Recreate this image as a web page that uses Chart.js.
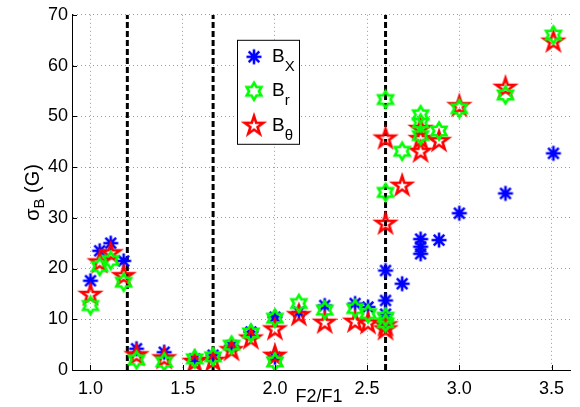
<!DOCTYPE html>
<html>
<head>
<meta charset="utf-8">
<script src="https://cdn.jsdelivr.net/npm/chart.js@4"></script>
<style>
  body { margin: 0; background: #fff; }
</style>
</head>
<body>
<canvas id="myChart" width="580" height="407"></canvas>
<script>
// F2/F1 ratio for each measurement, shared by the three components
const ratio = [1.00, 1.05, 1.11, 1.18, 1.25, 1.40, 1.565, 1.665, 1.765, 1.87,
  2.00, 2.00, 2.13, 2.27, 2.435, 2.505, 2.60, 2.60, 2.60, 2.60,
  2.69, 2.79, 2.79, 2.79, 2.89, 3.00, 3.25, 3.51];
const sigmaX = [17.6, 23.5, 25.0, 21.5, 4.2, 3.5, 2.2, 2.9, 4.8, 7.5,
  10.4, 2.5, 11.4, 12.7, 13.1, 12.4, 19.6, 13.7, 11.0, 9.5,
  17.0, 25.8, 24.3, 22.9, 25.6, 30.9, 34.8, 42.7];
const sigmaR = [12.7, 20.4, 21.6, 17.3, 2.0, 1.6, 2.2, 2.6, 4.9, 7.3,
  10.2, 1.6, 13.1, 11.8, 12.1, 11.1, 53.3, 35.0, 10.4, 9.3,
  43.1, 50.3, 48.7, 46.2, 47.1, 51.5, 54.2, 66.0];
const sigmaTheta = [14.8, 21.2, 23.0, 18.5, 2.9, 2.3, 1.6, 1.8, 3.9, 6.2,
  8.0, 2.8, 10.8, 9.3, 9.5, 9.2, 45.6, 28.8, 8.0, 8.8,
  36.3, 47.5, 45.5, 43.0, 45.1, 52.0, 55.6, 64.7];
const boundaries = [1.2, 1.665, 2.6];
const xTicks = [1, 1.5, 2, 2.5, 3, 3.5];
const yTicks = [0, 10, 20, 30, 40, 50, 60, 70];

const FONT = "'Liberation Sans', Arial, sans-serif";

// matlab-like hollow markers
function marker(kind, color) {
  const c = document.createElement("canvas");
  c.width = 30;
  c.height = 30;
  const g = c.getContext("2d");
  g.strokeStyle = color;
  g.lineWidth = 2.6;
  g.translate(15, 15);
  g.beginPath();
  if (kind === "asterisk") {
    for (let i = 0; i < 4; i++) {
      const a = i * Math.PI / 4;
      g.moveTo(-7.5 * Math.cos(a), -7.5 * Math.sin(a));
      g.lineTo(7.5 * Math.cos(a), 7.5 * Math.sin(a));
    }
  } else {
    const n = kind === "hex" ? 6 : 5;
    const R = kind === "hex" ? 8.5 : 9.8;
    const r = kind === "hex" ? R / Math.sqrt(3) : R * 0.382;
    for (let i = 0; i < 2 * n; i++) {
      const a = -Math.PI / 2 + i * Math.PI / n;
      const rr = i % 2 ? r : R;
      g.lineTo(rr * Math.cos(a), rr * Math.sin(a));
    }
    g.closePath();
  }
  g.stroke();
  return c;
}

const mX = marker("asterisk", "#0000ff");
const mR = marker("hex", "#00ff00");
const mT = marker("penta", "#ff0000");

const pts = ys => ratio.map((x, i) => ({ x: x, y: ys[i] }));

const decor = {
  id: "decor",
  afterDraw(chart) {
    const { ctx, chartArea: a, scales: { x, y } } = chart;
    ctx.save();

    // inner tick marks
    ctx.strokeStyle = "#000";
    ctx.lineWidth = 1;
    ctx.beginPath();
    xTicks.forEach(v => {
      const px = Math.round(x.getPixelForValue(v)) + 0.5;
      ctx.moveTo(px, a.bottom);
      ctx.lineTo(px, a.bottom - 5);
    });
    yTicks.forEach(v => {
      const py = Math.round(y.getPixelForValue(v)) + 0.5;
      ctx.moveTo(a.left, py);
      ctx.lineTo(a.left + 5, py);
    });
    ctx.stroke();

    // x title
    ctx.fillStyle = "#000";
    ctx.font = "18px " + FONT;
    ctx.textAlign = "center";
    ctx.textBaseline = "alphabetic";
    ctx.fillText("F2/F1", (a.left + a.right) / 2 - 2, 402);

    // y title with subscript
    ctx.save();
    ctx.translate(39, (a.top + a.bottom) / 2);
    ctx.rotate(-Math.PI / 2);
    ctx.textAlign = "left";
    const big = "20px " + FONT, small = "15px " + FONT;
    ctx.font = big;
    const w1 = ctx.measureText("σ").width, w3 = ctx.measureText(" (G)").width;
    ctx.font = small;
    const w2 = ctx.measureText("B").width;
    let sx = -(w1 + w2 + w3) / 2;
    ctx.font = big; ctx.fillText("σ", sx, 0); sx += w1;
    ctx.font = small; ctx.fillText("B", sx, 5); sx += w2;
    ctx.font = big; ctx.fillText(" (G)", sx, 0);
    ctx.restore();

    // legend box
    const bx = a.left + 165, by = a.top + 25;
    ctx.fillStyle = "#fff";
    ctx.fillRect(bx, by, 62, 104);
    ctx.strokeStyle = "#000";
    ctx.lineWidth = 1;
    ctx.strokeRect(bx + 0.5, by + 0.5, 62, 104);
    const items = [[mX, "X"], [mR, "r"], [mT, "θ"]];
    items.forEach((it, i) => {
      const cy = by + 17 + i * 34.5;
      ctx.drawImage(it[0], bx + 17 - 15, cy - 15);
      ctx.fillStyle = "#000";
      ctx.textAlign = "left";
      ctx.font = "19px " + FONT;
      ctx.fillText("B", bx + 35, cy + 5);
      const wb = ctx.measureText("B").width;
      ctx.font = "15px " + FONT;
      ctx.fillText(it[1], bx + 35 + wb, cy + 14);
    });
    ctx.restore();
  }
};

const datasets = [
  { label: "BX", data: pts(sigmaX), pointStyle: mX, order: 3 },
  { label: "Br", data: pts(sigmaR), pointStyle: mR, order: 1 },
  { label: "Bθ", data: pts(sigmaTheta), pointStyle: mT, order: 2 }
];
boundaries.forEach(b => {
  datasets.push({
    label: "boundary",
    data: [{ x: b, y: yTicks[0] }, { x: b, y: yTicks[yTicks.length - 1] }],
    showLine: true,
    borderColor: "#000",
    borderWidth: 3,
    borderDash: [6, 3],
    pointRadius: 0,
    order: 4
  });
});

const myChart = new Chart(document.getElementById("myChart"), {
  type: "scatter",
  data: { datasets: datasets },
  options: {
    responsive: false,
    animation: false,
    layout: { padding: { left: 0, right: 10, top: 13, bottom: 0 } },
    plugins: { legend: { display: false }, tooltip: { enabled: false } },
    scales: {
      x: {
        type: "linear",
        min: 0.9,
        max: 3.6,
        afterBuildTicks: s => { s.ticks = xTicks.map(v => ({ value: v })); },
        afterFit: s => { s.height = 37; },
        ticks: { color: "#000", font: { family: FONT, size: 18 }, padding: 8, maxRotation: 0 },
        grid: { color: "rgba(0,0,0,0.4)", drawTicks: false },
        border: { color: "#000", dash: [1, 3] }
      },
      y: {
        type: "linear",
        min: 0,
        max: 70,
        afterBuildTicks: s => { s.ticks = yTicks.map(v => ({ value: v })); },
        afterFit: s => { s.width = 72; },
        ticks: { color: "#000", font: { family: FONT, size: 18 }, padding: 4 },
        grid: { color: "rgba(0,0,0,0.4)", drawTicks: false },
        border: { color: "#000", dash: [1, 3] }
      }
    }
  },
  plugins: [decor]
});
</script>
</body>
</html>
